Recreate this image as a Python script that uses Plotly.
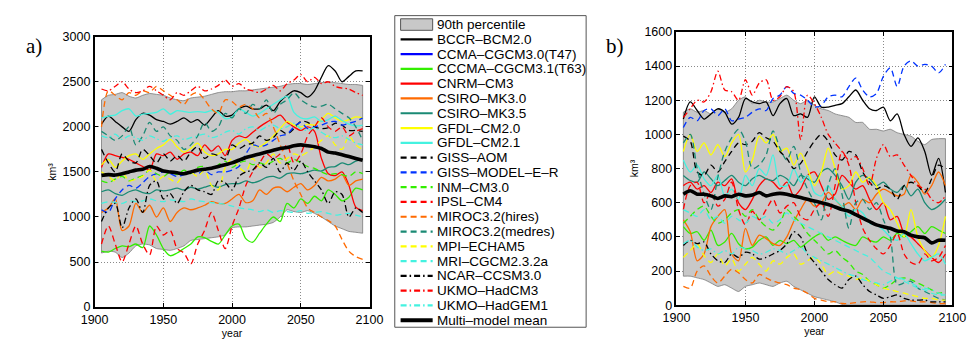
import plotly.graph_objects as go

# ---------------- data (km^3), one value every 5 years ----------------
YEARS = [1905, 1910, 1915, 1920, 1925, 1930, 1935, 1940, 1945,
         1950, 1955, 1960, 1965, 1970, 1975, 1980, 1985, 1990, 1995,
         2000, 2005, 2010, 2015, 2020, 2025, 2030, 2035, 2040, 2045,
         2050, 2055, 2060, 2065, 2070, 2075, 2080, 2085, 2090, 2095]

X_TICKS = [1900, 1950, 2000, 2050, 2100]
A_Y_TICKS = [0, 500, 1000, 1500, 2000, 2500, 3000]
B_Y_TICKS = [0, 200, 400, 600, 800, 1000, 1200, 1400, 1600]

# ---- panel a ----
A_P90_HI = [2300, 2350, 2360, 2380, 2340, 2320, 2350, 2370, 2360,
            2350, 2320, 2300, 2290, 2320, 2330, 2340, 2360, 2380, 2390,
            2390, 2400, 2400, 2410, 2420, 2430, 2440, 2450, 2470, 2480,
            2480, 2470, 2480, 2490, 2500, 2490, 2480, 2470, 2470, 2460]
A_P90_LO = [600, 620, 610, 550, 600, 680, 700, 690, 650,
            640, 630, 650, 680, 740, 750, 760, 770, 780, 800,
            880, 890, 890, 900, 910, 920, 940, 1000, 1080, 1060,
            1050, 1070, 1040, 1000, 950, 900, 870, 840, 830, 820]
A_MEAN = [1460, 1470, 1465, 1480, 1500, 1520, 1530, 1560, 1540,
          1510, 1500, 1490, 1480, 1500, 1520, 1530, 1540, 1560, 1580,
          1600, 1630, 1660, 1680, 1700, 1720, 1740, 1760, 1770, 1790,
          1800, 1790, 1780, 1760, 1720, 1710, 1690, 1670, 1650, 1630]
A_BCCR = [2030, 2120, 2060, 2000, 1950, 2080, 2150, 2130, 2080,
          2060, 2030, 2060, 2100, 2050, 2080, 2020, 2100, 2180, 2120,
          2130, 2200, 2230, 2200, 2200, 2240, 2180, 2280, 2350, 2400,
          2380, 2330, 2400, 2550, 2680, 2620, 2500, 2560, 2620, 2620]
A_CCMA_T47 = []
A_CCCMA_T63 = [620, 610, 650, 680, 670, 700, 660, 900, 800,
               650, 570, 600, 650, 700, 780, 770, 730, 700, 800,
               900, 920, 760, 720, 820, 920, 1000, 950, 1150, 1100,
               1200, 1150, 1230, 1180, 1300, 1250, 1180, 1220, 1320, 1300]
A_CNRM = [1550, 1700, 1680, 1660, 1640, 1600, 1560, 1520, 1700,
          1680, 1720, 1640, 1700, 1720, 1680, 1800, 1730, 1790, 1680,
          1850, 1900, 1880, 1940, 2000, 2050, 2090, 2130, 2050, 2000,
          1960, 2000, 1950, 1650, 1480, 1460, 1500, 1350, 1110, 1070]
A_CSIRO30 = [1050, 1100, 1200, 850, 900, 1150, 1050, 1130, 1000,
             1100, 950, 1050, 1100, 1080, 1100, 1130, 1170, 1150, 1150,
             1200, 1250, 1160, 1180, 1300, 1250, 1320, 1330, 1280, 1330,
             1370, 1300, 1350, 1440, 1400, 1420, 1470, 1350, 1400, 1420]
A_CSIRO35 = [1280, 1300, 1260, 1240, 1280, 1300, 1270, 1260, 1300,
             1290, 1300, 1320, 1300, 1330, 1310, 1330, 1350, 1330, 1360,
             1370, 1370, 1400, 1380, 1400, 1440, 1450, 1430, 1480, 1490,
             1480, 1500, 1520, 1510, 1550, 1560, 1600, 1580, 1620, 1640]
A_GFDL20 = [1580, 1640, 1550, 1620, 1680, 1700, 1640, 1700, 1760,
            1800, 1860, 1780, 1720, 1760, 1820, 1720, 1680, 1700, 1750,
            1750, 1820, 1860, 1800, 1780, 1830, 1900, 1980, 2060, 2020,
            2000, 2030, 2020, 2080, 2150, 2100, 2060, 2080, 2110, 2100]
A_GFDL21 = [2100, 2120, 2130, 2180, 2200, 2120, 2140, 2150, 2160,
            2200, 2140, 2180, 2170, 2160, 2170, 2160, 2180, 2160, 2090,
            2110, 2200, 2160, 2120, 2150, 2200, 2250, 2300, 2340, 2160,
            2100, 2090, 2110, 2060, 2080, 2120, 2070, 2030, 2010, 2020]
A_GISS_AOM = [1750, 1600, 1500, 1700, 1620, 1600, 1750, 1680, 1600,
              1700, 1620, 1680, 1620, 1720, 1780, 1650, 1700, 1680, 1640,
              1800, 1760, 1800, 1820, 1900, 1850, 1880, 1960, 1920, 1980,
              2060, 2050, 2000, 1980, 1990, 2040, 2020, 1960, 1960, 1950]
A_GISS_ER = [1080, 1050, 1200, 1300, 1350, 1320, 1380, 1450, 1480,
             1500, 1480, 1450, 1470, 1500, 1480, 1520, 1470, 1500, 1500,
             1520, 1560, 1700, 1800, 1780, 1800, 1850, 1900, 1920, 2000,
             2050, 1980, 2000, 2020, 2050, 2060, 2020, 2040, 2060, 2100]
A_INM = [1400, 1380, 1420, 1450, 1400, 1430, 1460, 1520, 1480,
         1450, 1500, 1470, 1520, 1480, 1550, 1560, 1530, 1580, 1620,
         1550, 1600, 1620, 1580, 1600, 1580, 1620, 1650, 1600, 1640,
         1600, 1560, 1540, 1500, 1470, 1480, 1470, 1450, 1500, 1480]
A_IPSL = [700, 900, 700, 500, 700, 900, 700, 580, 900,
          800, 850, 650, 600, 480, 700, 850, 1050, 850, 650,
          900, 1100, 1350, 1500, 1600, 1700, 1650, 1700, 1800, 1600,
          1700, 1900, 2000, 2100, 2000, 1950, 2000, 1900, 1950, 1980]
A_MIROC_HI = [2000, 2400, 2350, 2300, 2380, 2350, 2400, 2380, 2450,
              2400, 2350, 2300, 2250, 2350, 2380, 2300, 2200, 2150, 2300,
              2280, 2220, 2250, 2200, 2100, 2150, 2000, 1800, 1600, 1400,
              1250, 1100, 1050, 1000, 960, 900, 750, 620, 560, 530]
A_MIROC_MED = [1950, 1900, 1850, 1900, 2000, 1800, 1900, 2050, 1950,
               2000, 1900, 1850, 1750, 1800, 1900, 2050, 1950, 2000, 2150,
               2100, 2200, 2150, 2250, 2200, 2300, 2150, 2250, 2300, 2380,
               2300, 2250, 2220, 2230, 2250, 2200, 2150, 2100, 2000, 1850]
A_MPI = [1500, 1450, 1400, 1500, 1400, 1420, 1450, 1520, 1400,
         1450, 1420, 1380, 1480, 1500, 1450, 1520, 1350, 1300, 1550,
         1650, 1550, 1500, 1650, 1550, 1600, 1700, 1600, 1650, 1700,
         1680, 1720, 1780, 1850, 1900, 1800, 1750, 1900, 1800, 1750]
A_MRI = [1150, 1170, 1160, 1150, 1180, 1170, 1180, 1200, 1180,
         1170, 1190, 1180, 1170, 1200, 1180, 1170, 1160, 1150, 1140,
         1120, 1100, 1090, 1080, 1060, 1080, 1050, 1070, 1060, 1050,
         1070, 1040, 1050, 1060, 1040, 1020, 1030, 1040, 1020, 1000]
A_NCAR = [950, 1100, 1150, 880, 1100, 1200, 1050, 1350, 1400,
          1200, 1260, 1150, 1280, 1350, 1300, 1280, 1250, 1400, 1380,
          1300, 1450, 1500, 1520, 1600, 1550, 1650, 1500, 1600, 1520,
          1620, 1500, 1400, 1300, 1150, 1280, 1250, 1000, 1100, 1050]
A_HADCM3 = [2420, 2400, 2450, 2500, 2420, 2380, 2400, 2450, 2400,
            2350, 2300, 2380, 2350, 2400, 2450, 2400, 2420, 2460, 2520,
            2450, 2480, 2420, 2400, 2380, 2420, 2460, 2400, 2480, 2520,
            2580, 2500, 2550, 2480, 2500, 2450, 2430, 2420, 2380, 2350]
A_HADGEM1 = [1900, 1880, 1920, 1860, 1900, 1880, 1850, 1900, 1870,
             1840, 1880, 1900, 1860, 1880, 1900, 1920, 1880, 1900, 1940,
             1960, 1920, 1980, 2000, 1960, 2000, 2020, 1980, 2000, 2040,
             1980, 1960, 1990, 1940, 1900, 1880, 1900, 1860, 1820, 1800]

# ---- panel b ----
B_P90_HI = [1130, 1150, 1130, 1140, 1120, 1150, 1130, 1150, 1200,
            1220, 1180, 1200, 1190, 1190, 1210, 1230, 1200, 1180, 1200,
            1170, 1150, 1140, 1120, 1110, 1100, 1070, 1070, 1030, 1030,
            1020, 1030, 1010, 1000, 990, 960, 940, 970, 975, 975]
B_P90_LO = [170, 170, 160, 150, 130, 110, 120, 100, 80,
            110, 120, 130, 120, 110, 130, 140, 110, 90, 70,
            50, 40, 30, 20, 5, 0, 0, 0, 0, 0,
            0, 0, 0, 0, 0, 0, 0, 0, 0, 0]
B_MEAN = [650, 670, 650, 650, 640, 625, 640, 635, 650,
          640, 645, 660, 640, 650, 655, 650, 640, 630, 620,
          610, 600, 590, 575, 560, 550, 530, 510, 490, 470,
          460, 450, 435, 430, 410, 400, 395, 365, 380, 380]
B_BCCR = [1090, 1190, 1140, 1090, 1120, 1150, 1130, 1060, 1100,
          1210, 1190, 1180, 1190, 1110, 1180, 1210, 1110, 1120, 1100,
          1220, 1160, 1160, 1170, 1180, 1220, 1260, 1200, 1150, 1140,
          1160, 1080, 1120, 1000, 930, 980, 900, 760, 860, 660]
B_CCMA_T47 = []
B_CCCMA_T63 = [460, 420, 430, 380, 440, 350, 370, 420, 360,
               330, 340, 380, 400, 350, 380, 360, 380, 340, 370,
               400, 420, 380, 400, 380, 360, 350, 400, 380, 370,
               400, 380, 420, 400, 430, 460, 420, 460, 440, 420]
B_CNRM = [700, 720, 680, 700, 660, 720, 700, 740, 600,
          560, 620, 700, 740, 720, 680, 720, 640, 680, 760,
          780, 700, 620, 650, 760, 720, 680, 700, 620, 560,
          600, 500, 520, 420, 400, 360, 320, 280, 250, 300]
B_CSIRO30 = [500, 430, 260, 300, 460, 520, 560, 300, 260,
             450, 350, 410, 390, 360, 350, 400, 490, 560, 620,
             580, 600, 660, 620, 580, 600, 560, 620, 600, 650,
             680, 660, 640, 650, 760, 720, 650, 700, 780, 700]
B_CSIRO35 = [760, 730, 720, 780, 740, 700, 730, 760, 720,
             700, 740, 760, 740, 730, 760, 740, 700, 760, 740,
             720, 780, 800, 760, 700, 620, 720, 760, 740, 700,
             720, 680, 660, 700, 640, 680, 600, 560, 580, 620]
B_GFDL20 = [900, 1000, 900, 950, 880, 940, 870, 950, 1000,
            780, 850, 990, 950, 1000, 900, 920, 820, 890, 800,
            700, 780, 920, 800, 680, 700, 780, 720, 750, 700,
            600, 560, 480, 400, 560, 400, 320, 280, 350, 520]
B_GFDL21 = [850, 780, 820, 740, 700, 760, 640, 680, 620,
            760, 700, 800, 760, 880, 700, 700, 800, 720, 760,
            660, 640, 700, 620, 580, 520, 560, 540, 480, 470,
            440, 400, 380, 420, 360, 300, 260, 280, 300, 240]
B_GISS_AOM = [990, 960, 780, 760, 820, 780, 840, 900, 950,
              940, 960, 1010, 980, 960, 900, 860, 800, 830, 900,
              960, 1000, 960, 880, 850, 900, 880, 780, 720, 680,
              700, 680, 620, 700, 720, 700, 660, 740, 820, 800]
B_GISS_ER = [1040, 1100, 1080, 1140, 1150, 1110, 1150, 1080, 1090,
             1100, 1130, 1150, 1140, 1210, 1230, 1280, 1240, 1230, 1200,
             1160, 1170, 1220, 1230, 1220, 1280, 1330, 1260, 1220, 1240,
             1340, 1390, 1280, 1400, 1430, 1400, 1410, 1400, 1360, 1410]
B_INM = [480, 520, 560, 580, 520, 480, 500, 540, 560,
         520, 560, 500, 460, 440, 480, 560, 520, 480, 420,
         380, 340, 300, 320, 280, 250, 200, 180, 140, 120,
         100, 120, 150, 160, 150, 130, 110, 90, 70, 80]
B_IPSL = [560, 700, 720, 600, 660, 580, 620, 720, 560,
          470, 550, 500, 560, 620, 540, 580, 600, 520, 500,
          560, 600, 520, 700, 900, 820, 600, 450, 380, 330,
          300, 350, 420, 300, 250, 240, 300, 260, 280, 350]
B_MIROC_HI = [110, 100, 200, 230, 170, 130, 170, 210, 190,
              150, 130, 180, 160, 140, 130, 120, 100, 90, 70,
              40, 30, 20, 20, 10, 10, 15, 20, 20, 15,
              15, 20, 20, 25, 25, 20, 20, 15, 10, 10]
B_MIROC_MED = [950, 1000, 800, 650, 560, 750, 900, 980, 1030,
               960, 800, 820, 880, 1020, 920, 850, 930, 780, 680,
               600, 500, 700, 800, 650, 450, 600, 620, 560, 600,
               500, 400, 120, 130, 140, 100, 80, 60, 40, 30]
B_MPI = [280, 320, 360, 290, 250, 300, 230, 270, 200,
         240, 280, 240, 200, 260, 240, 280, 300, 240, 260,
         280, 240, 180, 200, 180, 170, 150, 160, 140, 120,
         100, 90, 80, 70, 60, 50, 40, 40, 30, 30]
B_MRI = [560, 540, 520, 560, 500, 520, 480, 520, 500,
         480, 520, 500, 520, 480, 500, 540, 500, 480, 460,
         440, 420, 400, 380, 360, 340, 320, 300, 280, 240,
         200, 180, 160, 140, 120, 100, 90, 70, 60, 60]
B_NCAR = [350, 380, 360, 370, 300, 260, 250, 300, 280,
          310, 300, 270, 280, 300, 320, 360, 430, 400, 300,
          250, 200, 150, 120, 100, 150, 170, 120, 80, 60,
          40, 50, 60, 40, 30, 30, 30, 20, 20, 20]
B_HADCM3 = [1100, 1150, 1200, 1190, 1250, 1370, 1260, 1250, 1200,
            1320, 1230, 1300, 1320, 1200, 1220, 1280, 1250, 970, 1230,
            1180, 1100, 1000, 950, 900, 850, 870, 800, 700, 860,
            940, 870, 880, 820, 760, 700, 680, 620, 600, 640]
B_HADGEM1 = [360, 380, 340, 320, 330, 300, 320, 300, 340,
             330, 320, 300, 310, 330, 320, 300, 320, 340, 300,
             280, 260, 240, 220, 200, 180, 170, 150, 140, 130,
             120, 140, 160, 150, 130, 110, 100, 90, 70, 60]

MODEL_NAMES = ["BCCR–BCM2.0", "CCMA–CGCM3.0(T47)", "CCCMA–CGCM3.1(T63)", "CNRM–CM3",
               "CSIRO–MK3.0", "CSIRO–MK3.5", "GFDL–CM2.0", "GFDL–CM2.1", "GISS–AOM",
               "GISS–MODEL–E–R", "INM–CM3.0", "IPSL–CM4", "MIROC3.2(hires)",
               "MIROC3.2(medres)", "MPI–ECHAM5", "MRI–CGCM2.3.2a", "NCAR–CCSM3.0",
               "UKMO–HadCM3", "UKMO–HadGEM1"]
A_SERIES = [A_BCCR, A_CCMA_T47, A_CCCMA_T63, A_CNRM, A_CSIRO30, A_CSIRO35, A_GFDL20,
            A_GFDL21, A_GISS_AOM, A_GISS_ER, A_INM, A_IPSL, A_MIROC_HI, A_MIROC_MED,
            A_MPI, A_MRI, A_NCAR, A_HADCM3, A_HADGEM1]
B_SERIES = [B_BCCR, B_CCMA_T47, B_CCCMA_T63, B_CNRM, B_CSIRO30, B_CSIRO35, B_GFDL20,
            B_GFDL21, B_GISS_AOM, B_GISS_ER, B_INM, B_IPSL, B_MIROC_HI, B_MIROC_MED,
            B_MPI, B_MRI, B_NCAR, B_HADCM3, B_HADGEM1]

# ---------------- styles ----------------
DASH = "6px,4px"
DASHDOT = "6px,3px,1.5px,3px"
COLORS = ["#000000", "#0000ff", "#33ee00", "#ff0000", "#ff6a00", "#1a8a74", "#ffff00",
          "#44f2e0", "#000000", "#0033ff", "#33ee00", "#ff0000", "#ff6a00", "#1a8a74",
          "#ffff00", "#44f2e0", "#000000", "#ff0000", "#44f2e0"]
DASHES = ["solid"] * 8 + [DASH] * 8 + [DASHDOT] * 3
BAND_FILL = "#c8c8c8"
BAND_EDGE = "#7a7a7a"
FONT = "Liberation Sans, Arial, sans-serif"

W, H = 978, 340
fig = go.Figure()


def add_panel(xa, ya, lo, hi, series, mean):
    # 90th percentile band
    fig.add_trace(go.Scatter(x=YEARS, y=lo, mode="lines", xaxis=xa, yaxis=ya,
                             line=dict(color=BAND_EDGE, width=0.8, shape="spline", smoothing=0.6),
                             showlegend=False, hoverinfo="skip"))
    fig.add_trace(go.Scatter(x=YEARS, y=hi, mode="lines", xaxis=xa, yaxis=ya, fill="tonexty",
                             fillcolor=BAND_FILL,
                             line=dict(color=BAND_EDGE, width=0.8, shape="spline", smoothing=0.6),
                             showlegend=False, hoverinfo="skip"))
    for idx in (0, -1):
        fig.add_trace(go.Scatter(x=[YEARS[idx], YEARS[idx]], y=[lo[idx], hi[idx]], mode="lines",
                                 xaxis=xa, yaxis=ya, line=dict(color=BAND_EDGE, width=0.8),
                                 showlegend=False, hoverinfo="skip"))
    for name, ys, col, dash in zip(MODEL_NAMES, series, COLORS, DASHES):
        if not ys:
            continue
        fig.add_trace(go.Scatter(x=YEARS, y=ys, mode="lines", name=name, xaxis=xa, yaxis=ya,
                                 line=dict(color=col, width=1.3, dash=dash,
                                           shape="spline", smoothing=0.8),
                                 showlegend=False))
    fig.add_trace(go.Scatter(x=YEARS, y=mean, mode="lines", name="Multi–model mean",
                             xaxis=xa, yaxis=ya,
                             line=dict(color="#000000", width=3.6, shape="spline", smoothing=0.8),
                             showlegend=False))


add_panel("x", "y", A_P90_LO, A_P90_HI, A_SERIES, A_MEAN)
add_panel("x2", "y2", B_P90_LO, B_P90_HI, B_SERIES, B_MEAN)


def px(x):
    return x / W


def py(y):
    return 1 - y / H


axis_common = dict(showline=True, linecolor="#000000", linewidth=1.5, mirror="ticks",
                   ticks="inside", ticklen=4, tickcolor="#000000", tickwidth=1,
                   showgrid=True, gridcolor="#8a8a8a", griddash="1px,2px", gridwidth=1,
                   zeroline=False, tickfont=dict(family=FONT, size=12.5, color="#000000"))
TITLE_FONT = dict(family=FONT, size=10.5, color="#000000")

fig.update_layout(
    width=W, height=H, margin=dict(l=0, r=0, t=0, b=0),
    paper_bgcolor="#ffffff", plot_bgcolor="#ffffff", showlegend=False,
    xaxis=dict(domain=[px(83), px(366)], range=[1900, 2100], tickvals=X_TICKS, anchor="y",
               title=dict(text="year", font=TITLE_FONT, standoff=0), **axis_common),
    yaxis=dict(domain=[py(313), py(31)], range=[0, 3000], tickvals=A_Y_TICKS, anchor="x",
               title=dict(text="km³", font=TITLE_FONT, standoff=4), **axis_common),
    xaxis2=dict(domain=[px(682), px(966)], range=[1900, 2100], tickvals=X_TICKS, anchor="y2",
                title=dict(text="year", font=TITLE_FONT, standoff=0), **axis_common),
    yaxis2=dict(domain=[py(311), py(26)], range=[0, 1600], tickvals=B_Y_TICKS, anchor="x2",
                title=dict(text="km³", font=TITLE_FONT, standoff=4), **axis_common),
)

# panel letters
LETTER_FONT = dict(family="Liberation Serif, Times New Roman, serif", size=21, color="#000000")
fig.add_annotation(x=px(10), y=py(41), xref="paper", yref="paper", xanchor="left", yanchor="middle",
                   text="a)", showarrow=False, font=LETTER_FONT)
fig.add_annotation(x=px(607), y=py(41), xref="paper", yref="paper", xanchor="left", yanchor="middle",
                   text="b)", showarrow=False, font=LETTER_FONT)

# ---------------- custom legend (box, samples, labels) ----------------
LEG_X0, LEG_X1, LEG_Y0, LEG_Y1 = 392, 589, 9, 334
ROW0, ROW_STEP = 18.3, 15.42
SAMPLE_X0, SAMPLE_X1, TEXT_X = 398, 431, 433.5

shapes = [dict(type="rect", xref="paper", yref="paper", x0=px(LEG_X0), x1=px(LEG_X1),
               y0=py(LEG_Y1), y1=py(LEG_Y0), line=dict(color="#555555", width=1),
               fillcolor="#ffffff", layer="above")]
entries = [("90th percentile", None, None, None)]
for name, col, dash in zip(MODEL_NAMES, COLORS, DASHES):
    entries.append((name, col, dash, 2.2))
entries.append(("Multi–model mean", "#000000", "solid", 4))

for i, (label, col, dash, w) in enumerate(entries):
    yc = ROW0 + i * ROW_STEP
    if col is None:
        shapes.append(dict(type="rect", xref="paper", yref="paper", x0=px(SAMPLE_X0), x1=px(SAMPLE_X1),
                           y0=py(yc + 6), y1=py(yc - 6), fillcolor=BAND_FILL,
                           line=dict(color="#555555", width=1), layer="above"))
    else:
        shapes.append(dict(type="line", xref="paper", yref="paper", x0=px(SAMPLE_X0), x1=px(SAMPLE_X1),
                           y0=py(yc), y1=py(yc), line=dict(color=col, width=w, dash=dash),
                           layer="above"))
    fig.add_annotation(x=px(TEXT_X), y=py(yc), xref="paper", yref="paper", xanchor="left",
                       yanchor="middle", text=label, showarrow=False,
                       font=dict(family=FONT, size=13.5, color="#000000"))

fig.update_layout(shapes=shapes)

for arr in A_SERIES + B_SERIES + [A_P90_HI, A_P90_LO, A_MEAN, B_P90_HI, B_P90_LO, B_MEAN]:
    assert len(arr) in (0, len(YEARS)), len(arr)

fig.write_html("out.html")
